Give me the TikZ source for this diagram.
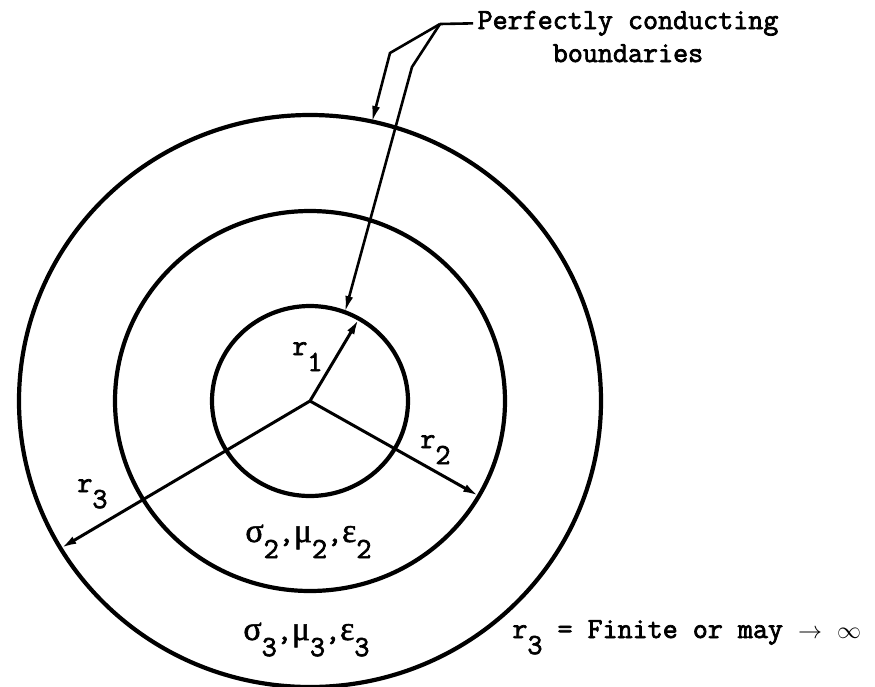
\documentclass[tikz,border=0pt]{standalone}
\usepackage{fontspec}
\newfontfamily\tw{Latin Modern Mono}[FakeBold=2.5]
\newfontfamily\gr{Liberation Serif}[FakeBold=1.5]
\usetikzlibrary{arrows.meta}
\newcommand{\lo}[1]{\raisebox{-0.55em}{#1}}
\newcommand{\gk}[1]{{\gr\fontsize{17}{18}\selectfont #1}}
\newcommand{\smallsym}[1]{{\fontsize{12}{12}\selectfont$#1$}}
\begin{document}
\begin{tikzpicture}[x=0.5pt,y=-0.5pt,
  ring/.style={line width=2.1pt},
  radline/.style={line width=1.5pt},
  leader/.style={line width=1.3pt},
  tip/.style={-{Latex[length=8pt,width=4pt]}},
  lbl/.style={font=\fontsize{14.6}{16}\selectfont\tw, inner sep=0pt, anchor=base west}]
\clip (0,0) rectangle (875,687);
\coordinate (c) at (310,401);
% boundaries
\draw[ring] (c) ellipse [x radius=98, y radius=95];
\draw[ring] (c) ellipse [x radius=195, y radius=190];
\draw[ring] (c) ellipse [x radius=291, y radius=286];
% radii tips
\coordinate (t1) at (359,318.7);
\coordinate (t2) at (478.9,496);
\coordinate (t3) at (60.6,548.3);
\draw[radline,tip] (c) -- (t1);
\draw[radline,tip] (c) -- (t2);
\draw[radline,tip] (c) -- (t3);
% labels
\node[lbl] (r1) at (292,355) {r\lo{1}};
\node[lbl] (r2) at (420,448) {r\lo{2}};
\node[lbl] (r3) at (77,492) {r\lo{3}};
\node[lbl] (m2) at (245,542) {\gk{σ}\lo{2},\gk{μ}\lo{2},\gk{ε}\lo{2}};
\node[lbl] (m3) at (243,640) {\gk{σ}\lo{3},\gk{μ}\lo{3},\gk{ε}\lo{3}};
\node[lbl] (note) at (512,638) {r\lo{3} = Finite or may \smallsym{\rightarrow} \smallsym{\infty}};
% leader text
\node[lbl, anchor=base] (pc) at (628,29) {Perfectly conducting};
\node[lbl, anchor=base] (bd) at (628,62) {boundaries};
\coordinate (b) at (440,24);
\coordinate (k1) at (390,53);
\coordinate (k2) at (412,67);
\coordinate (o1) at (372,122);
\coordinate (i1) at (345,312);
\draw[leader] ([xshift=-2pt]pc.west) -- (b);
\draw[leader,tip] (b) -- (k1) -- (o1);
\draw[leader,tip] (b) -- (k2) -- (i1);
\end{tikzpicture}
\end{document}
